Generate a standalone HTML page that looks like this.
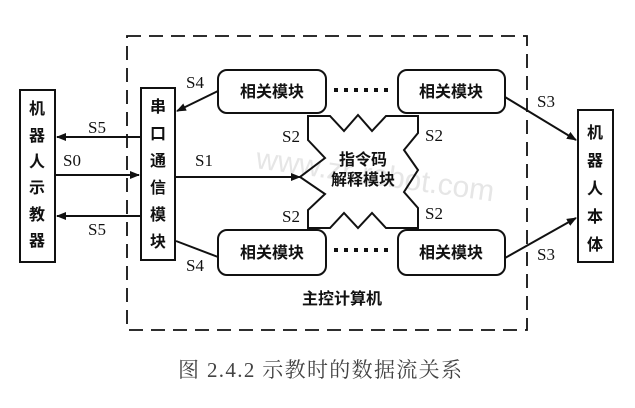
<!DOCTYPE html>
<html><head><meta charset="utf-8"><style>
html,body{margin:0;padding:0;background:#fff;}
svg{display:block;}
text{font-family:"Liberation Serif","Noto Serif CJK SC","Noto Sans CJK SC",serif;fill:#111;}
.cj{font-family:"Liberation Sans","Noto Sans CJK SC",sans-serif;font-weight:bold;font-size:16px;}
.s{font-size:17px;}
</style></head><body>
<svg width="635" height="408" viewBox="0 0 635 408" xmlns="http://www.w3.org/2000/svg">
<defs><marker id="a" markerWidth="10" markerHeight="8" refX="9" refY="4" orient="auto" markerUnits="userSpaceOnUse"><path d="M0,0 L10,4 L0,8 z" fill="#111"/></marker></defs>
<text x="255" y="168" font-size="30" style="fill:#e6e6e6;font-family:'Liberation Sans',sans-serif" transform="rotate(8 255 168)">www.zr-robot.com</text>
<g stroke="#111" fill="none" stroke-width="2">
<rect x="127" y="36" width="400" height="294" stroke-dasharray="14,8" stroke-width="1.8"/>
<rect x="20" y="90" width="35" height="172"/>
<rect x="141" y="88" width="34" height="172"/>
<rect x="578" y="110" width="35" height="152"/>
<rect x="218" y="70" width="108" height="43" rx="9"/>
<rect x="398" y="70" width="107" height="43" rx="9"/>
<rect x="218" y="230" width="108" height="45" rx="9"/>
<rect x="398" y="230" width="107" height="45" rx="9"/>
<path d="M308,116 L330,116 L344,131 L358,115 L372,131 L386,116 L418,116 L418,133 L404,150 L418,170 L404,192 L418,208 L418,228 L386,228 L372,213 L358,228 L344,213 L330,228 L308,228 L308,210 L325,194 L300,177 L325,158 L308,140 Z"/>
<line x1="140" y1="137" x2="57" y2="137" marker-end="url(#a)"/>
<line x1="140" y1="216" x2="57" y2="216" marker-end="url(#a)"/>
<line x1="56" y1="175" x2="139" y2="175" marker-end="url(#a)"/>
<line x1="176" y1="177" x2="300" y2="177" marker-end="url(#a)"/>
<line x1="218" y1="91" x2="177" y2="111" marker-end="url(#a)"/>
<line x1="176" y1="241" x2="218" y2="257"/>
<line x1="505" y1="97" x2="576" y2="140" marker-end="url(#a)"/>
<line x1="505" y1="258" x2="576" y2="218" marker-end="url(#a)"/>
<line x1="334" y1="90" x2="394" y2="90" stroke-dasharray="4,6" stroke-width="4"/>
<line x1="334" y1="250" x2="394" y2="250" stroke-dasharray="4,6" stroke-width="4"/>
</g>
<g class="cj" text-anchor="middle">
<text x="37" y="114" class="cj">机</text><text x="37" y="141" class="cj">器</text><text x="37" y="167" class="cj">人</text><text x="37" y="193" class="cj">示</text><text x="37" y="220" class="cj">教</text><text x="37" y="246" class="cj">器</text>
<text x="158" y="112" class="cj">串</text><text x="158" y="139" class="cj">口</text><text x="158" y="166" class="cj">通</text><text x="158" y="193" class="cj">信</text><text x="158" y="220" class="cj">模</text><text x="158" y="247" class="cj">块</text>
<text x="595" y="138" class="cj">机</text><text x="595" y="166" class="cj">器</text><text x="595" y="194" class="cj">人</text><text x="595" y="222" class="cj">本</text><text x="595" y="250" class="cj">体</text>
<text x="272" y="97" class="cj">相关模块</text><text x="451" y="97" class="cj">相关模块</text>
<text x="272" y="258" class="cj">相关模块</text><text x="451" y="258" class="cj">相关模块</text>
<text x="363" y="165" class="cj">指令码</text><text x="363" y="185" class="cj">解释模块</text>
<text x="342" y="304" class="cj">主控计算机</text>
</g>
<g class="s">
<text x="88" y="133" class="s">S5</text><text x="88" y="235" class="s">S5</text>
<text x="63" y="166" class="s">S0</text><text x="195" y="166" class="s">S1</text>
<text x="186" y="88" class="s">S4</text><text x="186" y="271" class="s">S4</text>
<text x="282" y="142" class="s">S2</text><text x="282" y="222" class="s">S2</text>
<text x="425" y="141" class="s">S2</text><text x="425" y="219" class="s">S2</text>
<text x="537" y="107" class="s">S3</text><text x="537" y="260" class="s">S3</text>
</g>
<text x="178" y="377" font-size="21" textLength="284" lengthAdjust="spacing" style="fill:#444;font-family:'Liberation Serif','Noto Serif CJK SC',serif">图 2.4.2 示教时的数据流关系</text>
</svg>
</body></html>
